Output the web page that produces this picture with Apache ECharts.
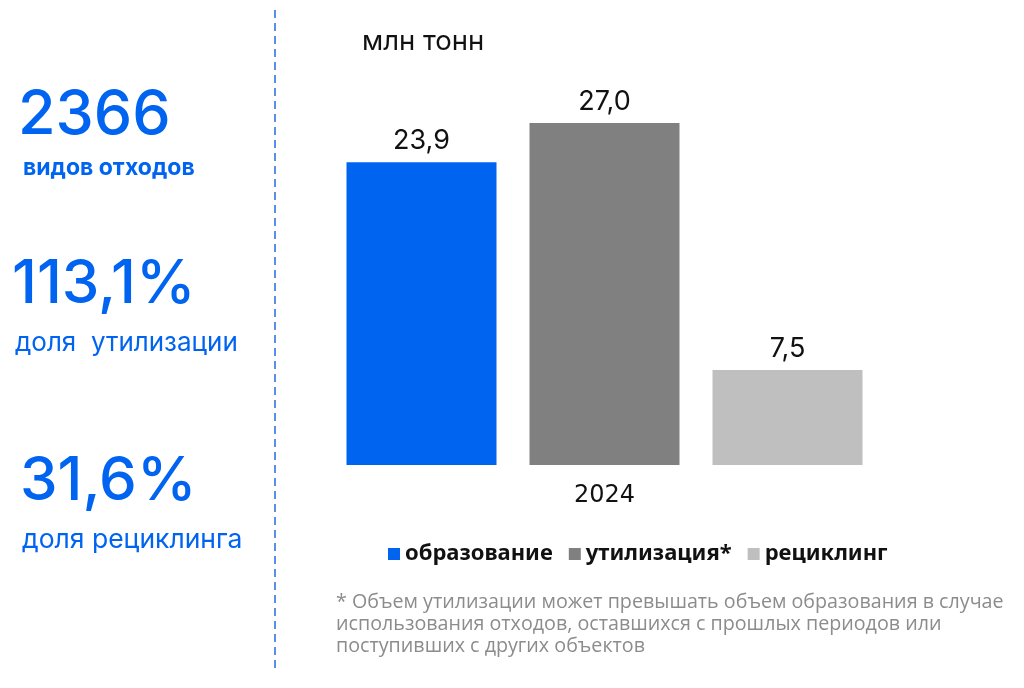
<!DOCTYPE html>
<html><head><meta charset="utf-8">
<script src="https://cdn.jsdelivr.net/npm/echarts@6/dist/echarts.min.js"></script>
<style>html,body{margin:0;padding:0;background:#fff}#c{width:1024px;height:688px}</style>
</head><body><div id="c"></div>
<script>
const categories = ['2024'];
const seriesNames = ['образование', 'утилизация*', 'рециклинг'];
const obrazovanie = [23.9];
const utilizacia = [27.0];
const recikling = [7.5];
const colors = ['#0064F0', '#808080', '#BFBFBF'];
const stats = [
  {value: '2366', label: 'видов отходов'},
  {value: '113,1%', label: 'доля  утилизации'},
  {value: '31,6%', label: 'доля рециклинга'}
];
const unitLabel = 'млн тонн';
const footnote = '* Объем утилизации может превышать объем образования в случае\nиспользования отходов, оставшихся с прошлых периодов или\nпоступивших с других объектов';

const chart = echarts.init(document.getElementById('c'));
const fmt = p => p.value.toFixed(1).replace('.', ',');
const mk = (name, data, i) => ({
  name, type: 'bar', data, barWidth: 150, barGap: '22%',
  itemStyle: {color: colors[i]},
  label: {show: true, position: 'top', distance: 8, formatter: fmt,
    color: '#111', fontSize: 27, fontFamily: 'Inter, Noto Sans, sans-serif'}
});
const statPos = [
  {vx: 18, vy: 85, vs: 61, lx: 23, ly: 157, ls: 23, lw: 'bold'},
  {vx: 12, vy: 255, vs: 60, lx: 15, ly: 330, ls: 26, lw: 'normal'},
  {vx: 20, vy: 452, vs: 60, lx: 22, ly: 527, ls: 26.5, lw: 'normal'}
];
const graphics = [
  {type: 'line', shape: {x1: 275, y1: 10, x2: 275, y2: 668},
   style: {stroke: '#5B8FE6', lineWidth: 2, lineDash: [8, 5]}},
  {type: 'text', left: 336, top: 591,
   style: {text: footnote, fill: '#8C8C8C', font: '19.7px "Open Sans", "Noto Sans", sans-serif', lineHeight: 22}}
];
stats.forEach((s, i) => {
  const p = statPos[i];
  graphics.push({type: 'text', left: p.vx, top: p.vy,
    style: {text: s.value, fill: '#0064F0', font: '500 ' + p.vs + 'px Inter, "Noto Sans", sans-serif'}});
  graphics.push({type: 'text', left: p.lx, top: p.ly,
    style: {text: s.label, fill: '#0064F0', font: p.lw + ' ' + p.ls + 'px Inter, "Noto Sans", sans-serif'}});
});
chart.setOption({
  animation: false,
  title: {text: unitLabel, left: 357, top: 23,
    textStyle: {fontSize: 27.5, fontWeight: 'normal', color: '#111', fontFamily: 'Inter, Noto Sans, sans-serif'}},
  grid: {left: 300, right: 115, top: 85, bottom: 223},
  xAxis: {type: 'category', data: categories,
    axisLine: {show: false}, axisTick: {show: false},
    axisLabel: {fontSize: 24, color: '#111', margin: 19, fontFamily: 'DejaVu Sans, sans-serif'}},
  yAxis: {type: 'value', min: 0, max: 30, show: false, splitLine: {show: false}},
  legend: {data: seriesNames, left: 383, top: 538, icon: 'rect', itemWidth: 12, itemHeight: 12,
    itemGap: 16,
    textStyle: {fontSize: 22, color: '#111', fontWeight: 'bold', fontFamily: '"Liberation Sans Narrow", "Noto Sans", sans-serif'}},
  series: [mk(seriesNames[0], obrazovanie, 0), mk(seriesNames[1], utilizacia, 1), mk(seriesNames[2], recikling, 2)],
  graphic: graphics
});
</script></body></html>
